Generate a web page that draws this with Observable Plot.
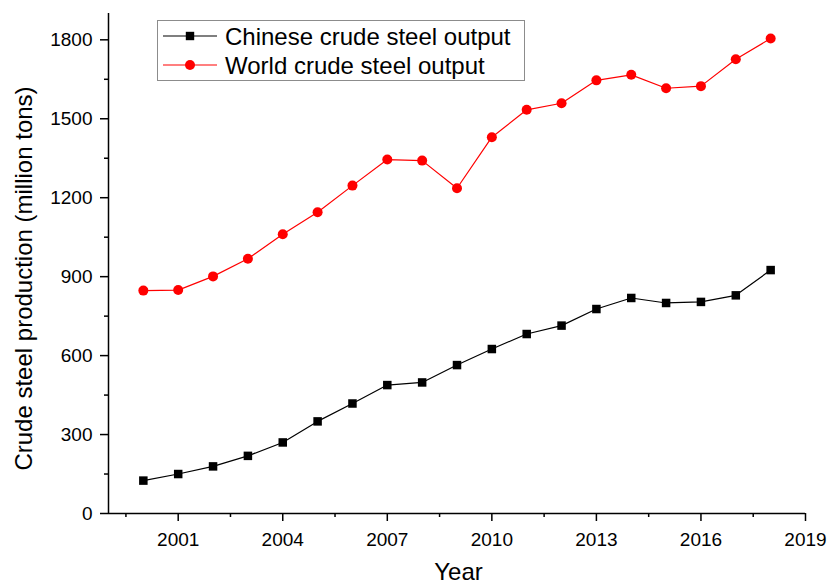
<!DOCTYPE html>
<html><head><meta charset="utf-8">
<script src="https://cdn.jsdelivr.net/npm/d3@7"></script>
<script src="https://cdn.jsdelivr.net/npm/@observablehq/plot@0.6"></script>
<style>
body{margin:0;background:#fff;}
#wrap{position:relative;width:829px;height:585px;font-family:"Liberation Sans",Arial,sans-serif;}
#legend{position:absolute;left:157px;top:20px;}
</style>
</head><body><div id="wrap"></div>
<script>
const years = [2000,2001,2002,2003,2004,2005,2006,2007,2008,2009,2010,2011,2012,2013,2014,2015,2016,2017,2018];
const chinaOutput = [125,150,179,219,270,350,418,488,498,564,625,682,714,777,819,800,804,829,925];
const worldOutput = [847,849,901,968,1061,1145,1246,1345,1341,1236,1430,1534,1559,1646,1667,1616,1624,1726,1805];
const xTicks = [2001,2004,2007,2010,2013,2016,2019];
const xMinorTicks = [1999.5,2002.5,2005.5,2008.5,2011.5,2014.5,2017.5];
const yTicks = [0,300,600,900,1200,1500,1800];
const yMinorTicks = [150,450,750,1050,1350,1650];
const seriesNames = ["Chinese crude steel output","World crude steel output"];
const seriesColors = ["#000000","#ff0000"];
const xLabel = "Year";
const yLabel = "Crude steel production (million tons)";

const china = years.map((y,i)=>({year:y, value:chinaOutput[i]}));
const world = years.map((y,i)=>({year:y, value:worldOutput[i]}));
const fmt = d => String(d);

const plot = Plot.plot({
  width: 829,
  height: 585,
  marginLeft: 108,
  marginRight: 24,
  marginTop: 13,
  marginBottom: 72,
  style: {fontFamily: '"Liberation Sans", Arial, sans-serif', background: "#fff", color: "#000"},
  x: {domain: [1999, 2019]},
  y: {domain: [0, 1900]},
  marks: [
    Plot.axisX(xMinorTicks, {tickSize: 4, strokeWidth: 1.5, fill: "none", label: null}),
    Plot.axisX(xTicks, {tickSize: 8, tickPadding: 11, strokeWidth: 1.5, fontSize: 19, tickFormat: fmt, label: null}),
    Plot.axisY(yMinorTicks, {tickSize: 4, strokeWidth: 1.5, fill: "none", label: null}),
    Plot.axisY(yTicks, {tickSize: 8, tickPadding: 8, strokeWidth: 1.5, fontSize: 19, tickFormat: fmt, label: null}),
    Plot.ruleY([0], {strokeWidth: 1.5}),
    Plot.ruleX([1999], {strokeWidth: 1.5}),
    Plot.line(world, {x: "year", y: "value", stroke: seriesColors[1], strokeWidth: 1.2}),
    Plot.dot(world, {x: "year", y: "value", fill: seriesColors[1], r: 5, symbol: "circle"}),
    Plot.line(china, {x: "year", y: "value", stroke: seriesColors[0], strokeWidth: 1.2}),
    Plot.dot(china, {x: "year", y: "value", fill: seriesColors[0], r: 4.8, symbol: "square"}),
    Plot.text([xLabel], {frameAnchor: "bottom", textAnchor: "middle", lineAnchor: "bottom", dx: 1.5, dy: 66, fontSize: 24}),
    Plot.text([yLabel], {frameAnchor: "left", textAnchor: "middle", lineAnchor: "middle", rotate: -90, dx: -84, dy: 15, fontSize: 24})
  ]
});
const wrap = document.getElementById("wrap");
wrap.appendChild(plot);

// legend
const lg = d3.select(wrap).append("svg").attr("id","legend")
  .attr("width", 369).attr("height", 62);
lg.append("rect").attr("x",0.5).attr("y",0.5).attr("width",367).attr("height",60)
  .attr("fill","#fff").attr("stroke","#8c8c8c").attr("stroke-width",1);
const rows = [16, 45];
seriesNames.forEach((name,i)=>{
  const g = lg.append("g");
  g.append("line").attr("x1",6).attr("x2",60).attr("y1",rows[i]).attr("y2",rows[i])
    .attr("stroke",seriesColors[i]).attr("stroke-width",1.2);
  if (i===0) {
    g.append("rect").attr("x",33-4.2).attr("y",rows[i]-4.2).attr("width",8.4).attr("height",8.4).attr("fill",seriesColors[i]);
  } else {
    g.append("circle").attr("cx",33).attr("cy",rows[i]).attr("r",5).attr("fill",seriesColors[i]);
  }
  g.append("text").attr("x",68).attr("y",rows[i]+9.3).attr("font-size",24)
    .attr("font-family",'"Liberation Sans", Arial, sans-serif').attr("fill","#000").text(name);
});
</script>
</body></html>
